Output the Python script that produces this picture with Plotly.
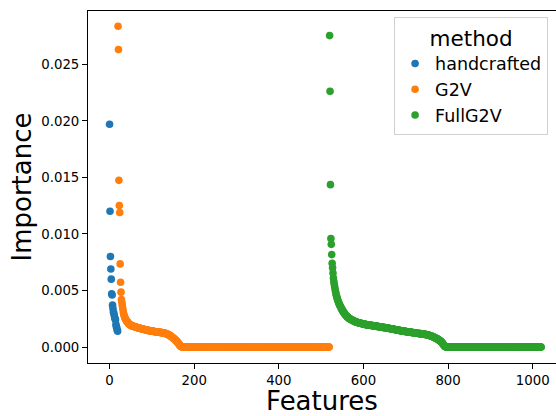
import plotly.graph_objects as go

# ---------------- data ----------------
series_names = ["handcrafted", "G2V", "FullG2V"]
series_colors = ["#1f77b4", "#ff7f0e", "#2ca02c"]

handcrafted_start = 0
handcrafted_values = [
    0.0197, 0.0120, 0.0080, 0.0069, 0.0060, 0.0047, 0.0046, 0.0037, 0.0034, 0.0031,
    0.0030, 0.0028, 0.0026, 0.0025, 0.0024, 0.0020, 0.0018, 0.0017, 0.0015, 0.0014,
]

g2v_start = 20
g2v_values = [
    0.02836, 0.02630, 0.01474, 0.01252, 0.01190, 0.00735, 0.00573, 0.00485,
    0.00420, 0.00395, 0.00370, 0.00345, 0.00320, 0.00298, 0.00282, 0.00270,
    0.00260, 0.00252, 0.00245, 0.00238, 0.00232, 0.00227, 0.00222, 0.00217,
    0.00212, 0.00208, 0.00204, 0.00201, 0.00198, 0.00195, 0.00193,
    0.00191, 0.00189, 0.00188, 0.00186, 0.00185, 0.00183, 0.00182, 0.00181,
    0.00179, 0.00178, 0.00177, 0.00176, 0.00175, 0.00174, 0.00172,
    0.00171, 0.00170, 0.00169, 0.00168, 0.00167, 0.00166, 0.00165, 0.00164,
    0.00163, 0.00162, 0.00161, 0.00160, 0.00159, 0.00158, 0.00157, 0.00156,
    0.00155, 0.00154, 0.00153, 0.00152, 0.00151, 0.00150, 0.00149,
    0.00148, 0.00147, 0.00147, 0.00146, 0.00145, 0.00145, 0.00144, 0.00143,
    0.00143, 0.00142, 0.00141, 0.00141, 0.00140, 0.00139, 0.00139, 0.00138,
    0.00137, 0.00137, 0.00136, 0.00135, 0.00135, 0.00134, 0.00134, 0.00133,
    0.00132, 0.00132, 0.00131, 0.00131, 0.00130, 0.00130, 0.00129, 0.00129,
    0.00128, 0.00128, 0.00127, 0.00127, 0.00126, 0.00125, 0.00125, 0.00124,
    0.00123, 0.00122, 0.00121, 0.00120, 0.00119, 0.00118, 0.00116, 0.00115,
    0.00113, 0.00111, 0.00109, 0.00107, 0.00105, 0.00103, 0.00100, 0.00098,
    0.00095, 0.00092, 0.00089,
    0.00086, 0.00083, 0.00080, 0.00077, 0.00074, 0.00071, 0.00067, 0.00064,
    0.00060, 0.00057, 0.00053, 0.00049, 0.00045, 0.00041, 0.00036, 0.00031,
    0.00026, 0.00021, 0.00016, 0.00011, 0.00007, 0.00004, 0.00002, 0.00001,
] + [0.0] * 348

fullg2v_start = 520
fullg2v_values = [
    0.02754, 0.02261, 0.01436, 0.00959, 0.00908, 0.00817,
    0.00740, 0.00700, 0.00655, 0.00610, 0.00580, 0.00555, 0.00532, 0.00510,
    0.00490, 0.00472, 0.00456, 0.00442, 0.00430, 0.00418, 0.00407, 0.00397,
    0.00387, 0.00378, 0.00369, 0.00362,
    0.00355, 0.00347, 0.00340, 0.00333, 0.00326, 0.00320, 0.00314, 0.00308,
    0.00302, 0.00297, 0.00292, 0.00287, 0.00282, 0.00278, 0.00274, 0.00270,
    0.00266, 0.00263, 0.00260, 0.00257, 0.00254, 0.00251, 0.00248, 0.00246,
    0.00244, 0.00242, 0.00240, 0.00238, 0.00236, 0.00234, 0.00232, 0.00230,
    0.00228, 0.00227, 0.00225, 0.00224, 0.00222, 0.00221, 0.00219, 0.00218,
    0.00217, 0.00216, 0.00215, 0.00214, 0.00213, 0.00212, 0.00211, 0.00210,
    0.00209, 0.00208, 0.00207, 0.00206, 0.00205, 0.00204, 0.00203, 0.00202,
    0.00201, 0.00200, 0.00200, 0.00199, 0.00198, 0.00198, 0.00197, 0.00196,
    0.00196, 0.00195, 0.00194, 0.00194, 0.00193, 0.00193, 0.00192, 0.00192,
    0.00191, 0.00190, 0.00190, 0.00189, 0.00189, 0.00188, 0.00187, 0.00187,
    0.00186, 0.00186, 0.00185, 0.00184, 0.00184, 0.00183, 0.00182, 0.00182,
    0.00181, 0.00181, 0.00180, 0.00179, 0.00179, 0.00178, 0.00178, 0.00177,
    0.00176, 0.00176, 0.00175, 0.00174, 0.00174, 0.00173, 0.00173, 0.00172,
    0.00171, 0.00171, 0.00170, 0.00170, 0.00169, 0.00168, 0.00168,
    0.00167, 0.00166, 0.00166, 0.00165, 0.00164, 0.00163, 0.00163, 0.00162,
    0.00161, 0.00160, 0.00160, 0.00159, 0.00158, 0.00158, 0.00157, 0.00156,
    0.00155, 0.00155, 0.00154, 0.00153, 0.00152, 0.00152, 0.00151, 0.00150,
    0.00150, 0.00149, 0.00148, 0.00147, 0.00147, 0.00146, 0.00145, 0.00144,
    0.00144, 0.00143, 0.00142, 0.00142, 0.00141, 0.00140, 0.00139, 0.00139,
    0.00138, 0.00138, 0.00137, 0.00137, 0.00136, 0.00136, 0.00135, 0.00134,
    0.00134, 0.00133, 0.00133, 0.00132, 0.00132, 0.00131, 0.00130, 0.00130,
    0.00129, 0.00129, 0.00128, 0.00128, 0.00127, 0.00126, 0.00126, 0.00125,
    0.00125, 0.00124, 0.00124, 0.00123, 0.00122, 0.00122, 0.00121, 0.00121,
    0.00120, 0.00120, 0.00119, 0.00119, 0.00118, 0.00118, 0.00118,
    0.00117, 0.00117, 0.00116, 0.00116, 0.00115, 0.00115, 0.00114, 0.00113,
    0.00113, 0.00112, 0.00111, 0.00110, 0.00110, 0.00109, 0.00108, 0.00107,
    0.00106, 0.00105, 0.00104, 0.00103, 0.00102, 0.00101, 0.00099, 0.00098,
    0.00097, 0.00095, 0.00094, 0.00092, 0.00091, 0.00089, 0.00088,
    0.00086, 0.00084, 0.00082, 0.00080, 0.00078, 0.00076, 0.00074, 0.00072,
    0.00070, 0.00068, 0.00065, 0.00063, 0.00060, 0.00058, 0.00055, 0.00053,
    0.00049, 0.00045, 0.00041, 0.00037, 0.00032, 0.00027, 0.00022, 0.00017,
    0.00012, 0.00008, 0.00004, 0.00002,
] + [0.0] * 226

x_tick_values = [0, 200, 400, 600, 800, 1000]
y_tick_values = [0.000, 0.005, 0.010, 0.015, 0.020, 0.025]
y_tick_labels = ["0.000", "0.005", "0.010", "0.015", "0.020", "0.025"]

x_title = "Features"
y_title = "Importance"
legend_title = "method"

# ---------------- figure ----------------
FONT = "DejaVu Sans"
series = [
    (handcrafted_start, handcrafted_values),
    (g2v_start, g2v_values),
    (fullg2v_start, fullg2v_values),
]

fig = go.Figure()
for name, color, (start, vals) in zip(series_names, series_colors, series):
    xs = list(range(start, start + len(vals)))
    fig.add_trace(go.Scatter(
        x=xs, y=vals, mode="markers", name=name,
        marker=dict(color=color, size=7.6, line=dict(width=0)),
    ))

fig.update_layout(
    width=556, height=416,
    margin=dict(l=88, r=0, t=11, b=53, autoexpand=False),
    paper_bgcolor="white", plot_bgcolor="white",
    font=dict(family=FONT, color="black", size=13.3),
    showlegend=True,
    legend=dict(
        title=dict(text=legend_title, font=dict(size=21.5, family=FONT), side="top center"),
        font=dict(size=17.5, family=FONT),
        x=0.654, xanchor="left", y=0.984, yanchor="top",
        bordercolor="#d0d0d0", borderwidth=1, bgcolor="rgba(255,255,255,0.8)",
        itemsizing="trace", tracegroupgap=0,
    ),
)

fig.update_xaxes(
    range=[-51, 1055], automargin=False,
    tickmode="array", tickvals=x_tick_values,
    ticks="outside", ticklen=5, tickwidth=1, tickcolor="black",
    showline=True, linecolor="black", linewidth=1, mirror=True,
    showgrid=False, zeroline=False,
    tickfont=dict(size=13.3, family=FONT, color="black"),
    title=dict(text=x_title, font=dict(size=26, family=FONT, color="black"), standoff=10),
)
fig.update_yaxes(
    range=[-0.001415, 0.029715], automargin=False,
    tickmode="array", tickvals=y_tick_values, ticktext=y_tick_labels,
    ticks="outside", ticklen=5, tickwidth=1, tickcolor="black",
    showline=True, linecolor="black", linewidth=1, mirror=False,
    showgrid=False, zeroline=False,
    tickfont=dict(size=13.3, family=FONT, color="black"),
    title=dict(text=y_title, font=dict(size=26, family=FONT, color="black"), standoff=2),
)

fig.write_html(
    "out.html",
    config={"displayModeBar": False},
    post_script="document.body.style.margin='0';document.body.style.overflow='hidden';",
)
